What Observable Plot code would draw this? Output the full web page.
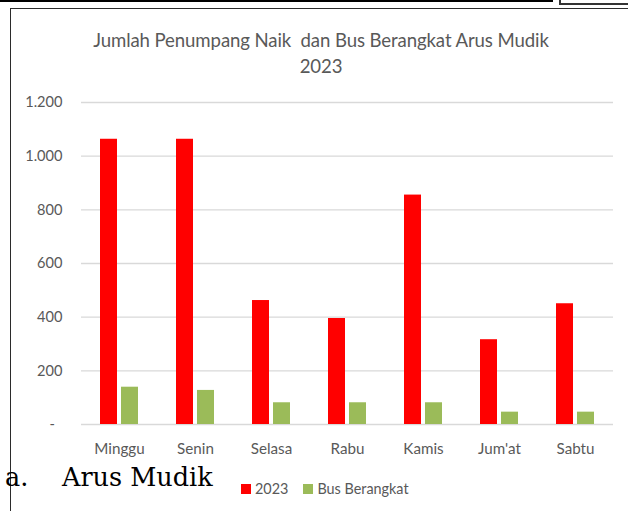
<!DOCTYPE html>
<html>
<head>
<meta charset="utf-8">
<script src="https://cdn.jsdelivr.net/npm/d3@7"></script>
<script src="https://cdn.jsdelivr.net/npm/@observablehq/plot@0.6"></script>
<style>
  html, body { margin: 0; padding: 0; background: #fff; }
  #page { position: relative; width: 628px; height: 511px; overflow: hidden; font-family: Lato, sans-serif; }
  .abs { position: absolute; }
  #tbl { left: -4px; top: -10px; width: 555px; height: 10px; border-bottom: 2px solid #000; border-right: 2px solid #000; }
  .vline { position: absolute; top: -10px; width: 2px; height: 12px; background: #000; }
  #box2 { left: 559px; top: -10px; width: 90px; height: 11px; border: 2px solid #333; }
  #frame { left: 10px; top: 8px; width: 700px; height: 600px; border: 1px solid #2b2b2b; box-sizing: border-box; }
  #title { left: 0; top: 27px; width: 642px; text-align: center; color: #595959; font-size: 18.6px; line-height: 26px; white-space: pre; letter-spacing: -0.1px; }
  #chart { left: 0; top: 90px; }
  #legend { left: 241px; top: 480px; display: flex; align-items: center; color: #595959; font-size: 14.4px; }
  #legend .sw { width: 10px; height: 10px; margin-right: 4px; }
  #legend .item { display: flex; align-items: center; margin-right: 15px; }
  #cap { left: 0; top: 465px; font-family: "DejaVu Serif", serif; font-size: 25.5px; line-height: 1; color: #000; white-space: pre; }
</style>
</head>
<body>
<div id="page">
  <div id="tbl" class="abs"></div>
  <div class="vline" style="left:198px"></div>
  <div class="vline" style="left:339px"></div>
  <div id="box2" class="abs"></div>
  <div id="frame" class="abs"></div>
  <div id="title" class="abs"></div>
  <div id="chart" class="abs"></div>
  <div id="cap" class="abs"><span style="position:absolute;left:5px">a.</span><span style="position:absolute;left:62px">Arus Mudik</span></div>
  <div id="legend" class="abs"></div>
</div>
<script>
// ---- data ----
const titleLines = ["Jumlah Penumpang Naik  dan Bus Berangkat Arus Mudik", "2023"];
const days = ["Minggu", "Senin", "Selasa", "Rabu", "Kamis", "Jum'at", "Sabtu"];
const series = ["2023", "Bus Berangkat"];
const penumpang2023 = [1063, 1063, 462, 395, 855, 316, 450];
const busBerangkat = [139, 127, 81, 81, 81, 46, 46];
const yTicks = [0, 200, 400, 600, 800, 1000, 1200];
const colors = ["#FF0000", "#9BBB59"];

const rows = days.flatMap((d, i) => [
  {day: d, series: series[0], value: penumpang2023[i]},
  {day: d, series: series[1], value: busBerangkat[i]}
]);

document.getElementById("title").textContent = titleLines.join("\n");

const fmt = d => d === 0 ? "-\u00a0\u00a0" : d3.format(",")(d).replace(/,/g, ".");

const chart = Plot.plot({
  width: 628,
  height: 380,
  marginLeft: 80,
  marginRight: 14,
  marginTop: 12,
  marginBottom: 46,
  style: {fontFamily: "Lato, sans-serif", fontSize: "14.6px", color: "#595959", background: "transparent", overflow: "visible"},
  fx: {domain: days, padding: 0, label: null, axis: "bottom", tickSize: 0, tickPadding: 19},
  x: {domain: series, paddingInner: 0.2, paddingOuter: 0.85, axis: null},
  y: {domain: [0, 1200], ticks: yTicks, tickSize: 0, tickPadding: 19, label: null, tickFormat: fmt},
  color: {domain: series, range: colors},
  marks: [
    Plot.ruleY(yTicks, {stroke: "#d9d9d9", strokeWidth: 1.3}),
    Plot.barY(rows, {fx: "day", x: "series", y: "value", fill: "series"})
  ]
});
chart.querySelectorAll("g[aria-label='fx-axis tick label'] text, g[aria-label='fx-axis'] text").forEach(t => t.style.fontSize = "15.2px");
document.getElementById("chart").appendChild(chart);

const legend = document.getElementById("legend");
series.forEach((s, i) => {
  const item = document.createElement("div");
  item.className = "item";
  const sw = document.createElement("div");
  sw.className = "sw";
  sw.style.background = colors[i];
  const lab = document.createElement("span");
  lab.textContent = s;
  item.appendChild(sw);
  item.appendChild(lab);
  legend.appendChild(item);
});
</script>
</body>
</html>
